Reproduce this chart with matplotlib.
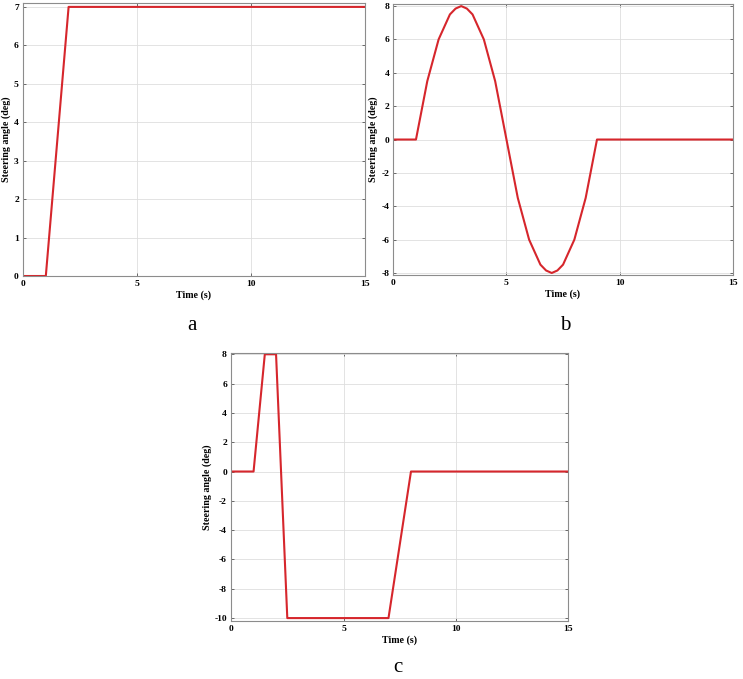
import numpy as np
import matplotlib
matplotlib.use("Agg")
import matplotlib.pyplot as plt

plt.rcParams['font.family'] = ['Liberation Serif', 'DejaVu Serif']
plt.rcParams['axes.unicode_minus'] = False

# panel a: step steer
t_a = [0, 1, 2, 15]
steer_a = [0, 0, 7, 7]

# panel b: sine steer
t_b = [0, 1, 1.5, 2, 2.5, 2.75, 3, 3.25, 3.5, 4, 4.5, 5, 5.5, 6, 6.5, 6.75, 7,
       7.25, 7.5, 8, 8.5, 9, 15]
steer_b = [0, 0, 3.5, 6, 7.5, 7.85, 8, 7.85, 7.5, 6, 3.5, 0, -3.5, -6, -7.5,
           -7.85, -8, -7.85, -7.5, -6, -3.5, 0, 0]

# panel c: double lane change type steer
t_c = [0, 1, 1.5, 2, 2.5, 7, 8, 15]
steer_c = [0, 0, 8, 8, -10, -10, 0, 0]

xticks = [0, 5, 10, 15]
line_col = '#d6262c'

fig = plt.figure(figsize=(7.43, 6.79), dpi=100)

panels = [
    ([0.031, 0.5935, 0.460, 0.402], t_a, steer_a, (0, 7.1), np.arange(0, 8, 1), 'a', (0.258, 0.521)),
    ([0.5294, 0.595, 0.4568, 0.399], t_b, steer_b, (-8.12, 8.12), np.arange(-8, 9, 2), 'b', (0.761, 0.521)),
    ([0.311, 0.0854, 0.454, 0.395], t_c, steer_c, (-10.2, 8.1), np.arange(-10, 9, 2), 'c', (0.536, 0.017)),
]

for rect, t, s, ylim, yt, letter, lpos in panels:
    ax = fig.add_axes(rect)
    ax.plot(t, s, color=line_col, lw=1.5)
    ax.set_xlim(0, 15)
    ax.set_ylim(*ylim)
    ax.set_xticks(xticks)
    ax.set_yticks(yt)
    ax.grid(True, color='#dedede', lw=0.6)
    ax.set_axisbelow(True)
    for sp in ax.spines.values():
        sp.set_color('#8c8c8c')
        sp.set_linewidth(0.8)
    ax.tick_params(direction='in', top=True, right=True, length=2.5, width=0.6,
                   color='#555555', labelsize=6.8, pad=3)
    for lab in ax.get_xticklabels() + ax.get_yticklabels():
        lab.set_fontweight('bold')
    ax.set_xlabel('Time (s)', fontsize=7.2, fontweight='bold', labelpad=1.5)
    ax.set_ylabel('Steering angle (deg)', fontsize=7.2, fontweight='bold', labelpad=2)
    fig.text(lpos[0], lpos[1], letter, fontsize=15, ha='center', va='center')

fig.savefig('out.png', dpi=100)
